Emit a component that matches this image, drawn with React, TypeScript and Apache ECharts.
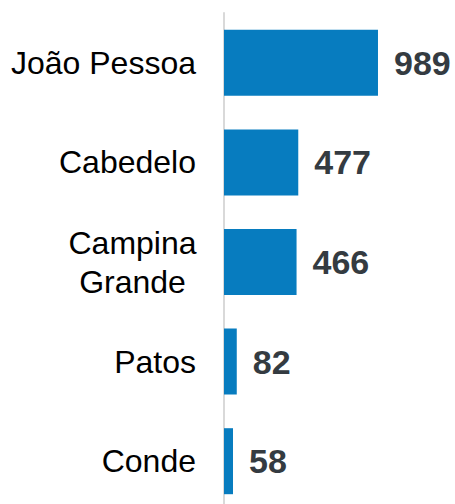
import React, { useEffect, useRef } from "react";
import * as echarts from "echarts";

const categories = ["João Pessoa", "Cabedelo", "Campina\nGrande", "Patos", "Conde"];
const values = [989, 477, 466, 82, 58];

export default function App() {
  const ref = useRef<HTMLDivElement>(null);
  useEffect(() => {
    if (!ref.current) return;
    const chart = echarts.init(ref.current, null, { renderer: "svg" });
    const font = "Liberation Sans, Arial, sans-serif";
    chart.setOption({
      animation: false,
      grid: {
        left: 224,
        width: 155.7,
        top: 13,
        height: 498,
        containLabel: false,
        outerBoundsMode: "none",
      },
      xAxis: {
        type: "value",
        min: 0,
        max: 1000,
        show: false,
      },
      yAxis: {
        type: "category",
        data: categories,
        inverse: true,
        axisLine: { show: true, lineStyle: { color: "#d9d9d9", width: 2 } },
        axisTick: { show: false },
        axisLabel: {
          fontSize: 32,
          color: "#000",
          fontFamily: font,
          margin: 28,
          lineHeight: 39,
          align: "right",
          formatter: (v: string) =>
            v.includes("\n")
              ? v
                  .split("\n")
                  .map((s) => `{c|${s}}`)
                  .join("\n")
              : v,
          rich: {
            c: {
              width: 127,
              align: "center",
              fontSize: 32,
              lineHeight: 39,
              color: "#000",
              fontFamily: font,
            },
          },
        },
      },
      series: [
        {
          type: "bar",
          data: values,
          barWidth: 66,
          itemStyle: { color: "#077cbf" },
          label: {
            show: true,
            position: "right",
            distance: 16,
            fontSize: 34,
            fontWeight: "bold",
            color: "#343b41",
            fontFamily: font,
          },
        },
      ],
    });
    return () => chart.dispose();
  }, []);
  return (
    <div style={{ width: 455, height: 504, position: "absolute", left: 0, top: 0, overflow: "hidden" }}>
      <div ref={ref} style={{ width: 455, height: 512 }} />
    </div>
  );
}
